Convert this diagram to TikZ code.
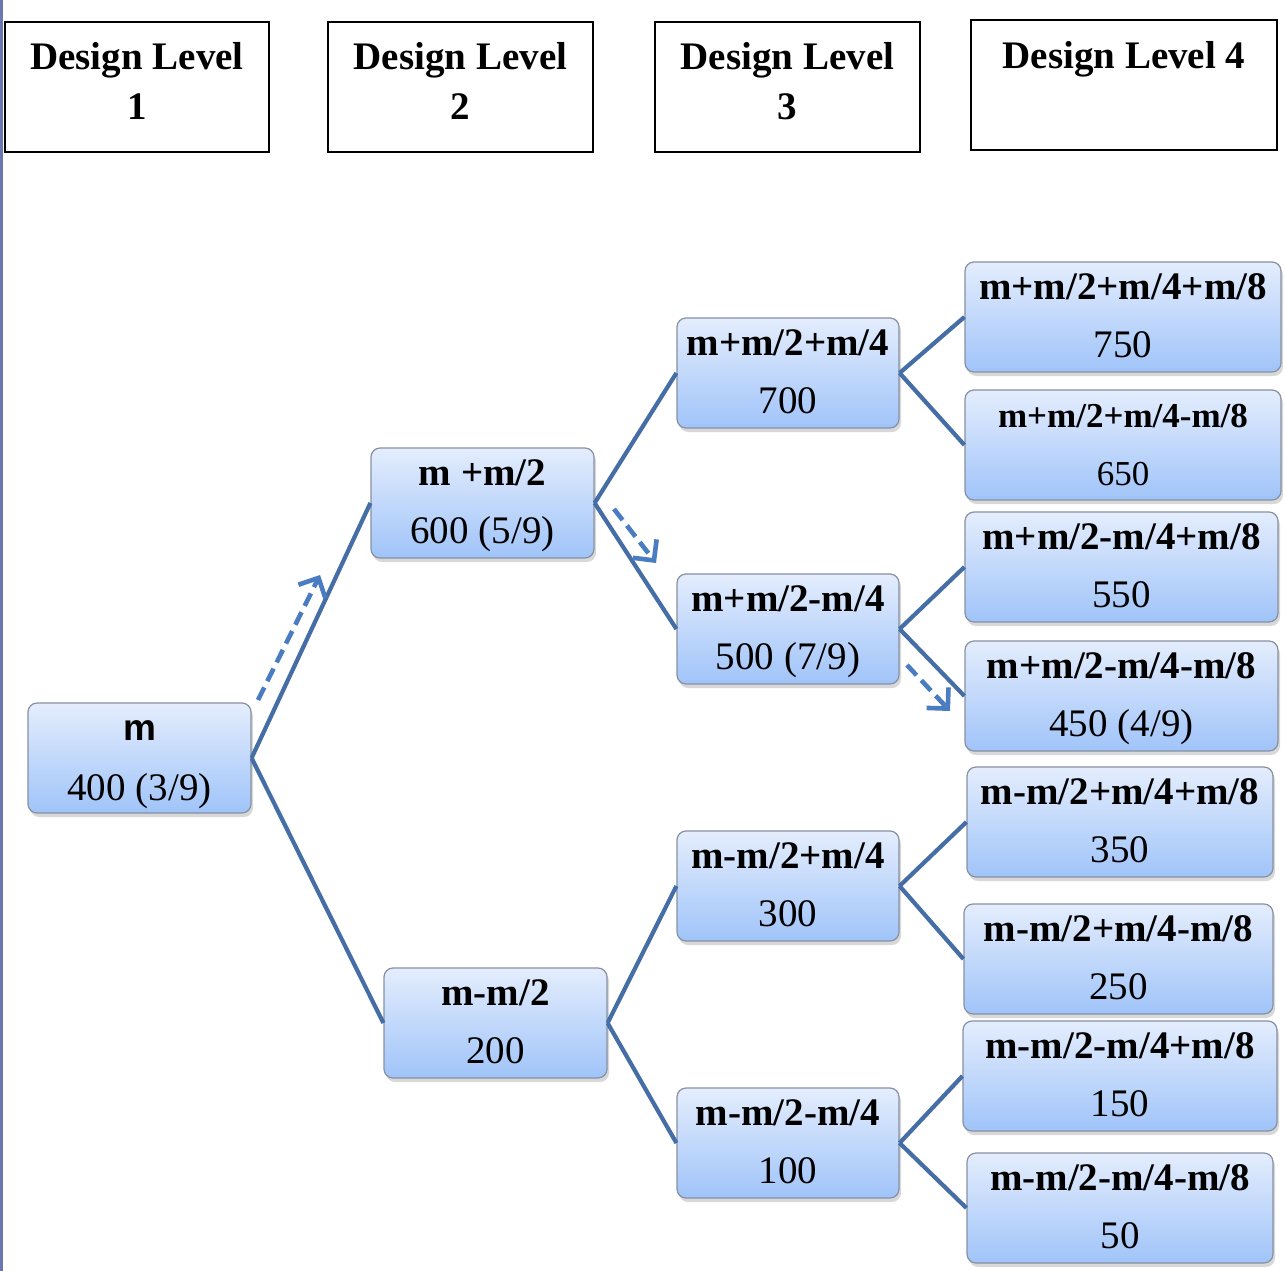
\documentclass[tikz,border=0pt]{standalone}
\usepackage{fontspec}
\setmainfont{Liberation Serif}
\newfontfamily\timesr{Liberation Serif}
\newfontfamily\arialf{Liberation Sans}
\usetikzlibrary{shadows,arrows.meta,fit}
\definecolor{linec}{RGB}{70,110,166}
\definecolor{dashc}{RGB}{74,124,194}
\definecolor{topc}{RGB}{228,237,253}
\definecolor{botc}{RGB}{160,196,249}
\definecolor{edgec}{RGB}{135,145,162}
\definecolor{stripc}{RGB}{110,118,175}
\tikzset{
 hdr/.style={draw=black, line width=2pt, fill=white, inner sep=0pt},
 tbox/.style={draw=edgec, line width=1.2pt, rounded corners=9pt, top color=topc, bottom color=botc, inner sep=0pt,
   drop shadow={shadow xshift=2pt, shadow yshift=-4pt, opacity=0.3}},
 fb/.style={font=\fontsize{39}{47}\selectfont\timesr\bfseries, anchor=base, inner sep=0pt},
 fr/.style={font=\fontsize{39}{47}\selectfont\timesr\mdseries, anchor=base, inner sep=0pt},
 conn/.style={draw=linec, line width=4.2pt},
 darrow/.style={draw=dashc, line width=4.6pt, dash pattern=on 14pt off 7pt, -{Straight Barb[length=15pt,width=30pt,line width=4.6pt]}},
}
\newcommand\treenode[7]{%
 \node[tbox, fit={(#2,#3)(#4,#5)}] (#1) {};
 \node[fb] (#1a) at ([yshift=-38pt]#1.north) {#6};
 \node[fr] (#1b) at ([yshift=-96pt]#1.north) {#7};
}
\newcommand\hdrnode[7]{%
 \node[hdr, fit={(#2,#3)(#4,#5)}] (#1) {};
 \node[fb] (#1a) at ([yshift=-49pt]#1.north) {#6};
 \node[fb] (#1b) at ([yshift=-99pt]#1.north) {#7};
}
\begin{document}
\begin{tikzpicture}[x=1pt,y=-1pt]
\useasboundingbox[fill=white] (0,0) rectangle (1286,1271);
\fill[stripc] (0,0) rectangle (3,1271);
% headers
\hdrnode{h1}{5}{22}{269}{152}{Design Level}{1}
\hdrnode{h2}{328}{22}{593}{152}{Design Level}{2}
\hdrnode{h3}{655}{22}{920}{152}{Design Level}{3}
\node[hdr, fit={(971,20)(1277,150)}] (h4) {};
\node[fb] (h4a) at ([yshift=-50pt]h4.north) {Design Level 4};
% level 1
\node[tbox, fit={(28,703)(251,813)}] (n1) {};
\node[fb, font=\fontsize{37}{44}\selectfont\arialf\bfseries] (n1a) at ([yshift=-38pt]n1.north) {m};
\node[fr] (n1b) at ([yshift=-98pt]n1.north) {400 (3/9)};
% level 2
\treenode{n2}{371}{448}{594}{558}{m +m/2}{600 (5/9)}
\treenode{n3}{384}{968}{607}{1078}{m-m/2}{200}
% level 3
\treenode{p1}{677}{318}{899}{428}{m+m/2+m/4}{700}
\treenode{p2}{677}{574}{899}{684}{m+m/2-m/4}{500 (7/9)}
\treenode{p3}{677}{831}{899}{941}{m-m/2+m/4}{300}
\treenode{p4}{677}{1088}{899}{1198}{m-m/2-m/4}{100}
% level 4
\treenode{q1}{965}{262}{1281}{372}{m+m/2+m/4+m/8}{750}
\treenode{q2}{965}{390}{1281}{500}{\fontsize{35}{42}\selectfont m+m/2+m/4-m/8}{\fontsize{35}{42}\selectfont 650}
\treenode{q3}{965}{512}{1278}{622}{m+m/2-m/4+m/8}{550}
\treenode{q4}{965}{641}{1278}{751}{m+m/2-m/4-m/8}{450 (4/9)}
\treenode{q5}{967}{767}{1273}{877}{m-m/2+m/4+m/8}{350}
\treenode{q6}{964}{904}{1273}{1014}{m-m/2+m/4-m/8}{250}
\treenode{q7}{963}{1021}{1277}{1131}{m-m/2-m/4+m/8}{150}
\treenode{q8}{967}{1153}{1273}{1263}{m-m/2-m/4-m/8}{50}
% connectors
\draw[conn] (n1.east) -- (n2.west);
\draw[conn] (n1.east) -- (n3.west);
\draw[conn] (n2.east) -- (p1.west);
\draw[conn] (n2.east) -- (p2.west);
\draw[conn] (n3.east) -- (p3.west);
\draw[conn] (n3.east) -- (p4.west);
\draw[conn] (p1.east) -- (q1.west);
\draw[conn] (p1.east) -- (q2.west);
\draw[conn] (p2.east) -- (q3.west);
\draw[conn] (p2.east) -- (q4.west);
\draw[conn] (p3.east) -- (q5.west);
\draw[conn] (p3.east) -- (q6.west);
\draw[conn] (p4.east) -- (q7.west);
\draw[conn] (p4.east) -- (q8.west);
% dashed arrows
\coordinate (d1s) at (258,700); \coordinate (d1e) at (320,575);
\coordinate (d2s) at (614,509); \coordinate (d2e) at (656,563);
\coordinate (d3s) at (907,665); \coordinate (d3e) at (950,711);
\draw[darrow] (d1s) -- (d1e);
\draw[darrow] (d2s) -- (d2e);
\draw[darrow] (d3s) -- (d3e);
\end{tikzpicture}
\end{document}
